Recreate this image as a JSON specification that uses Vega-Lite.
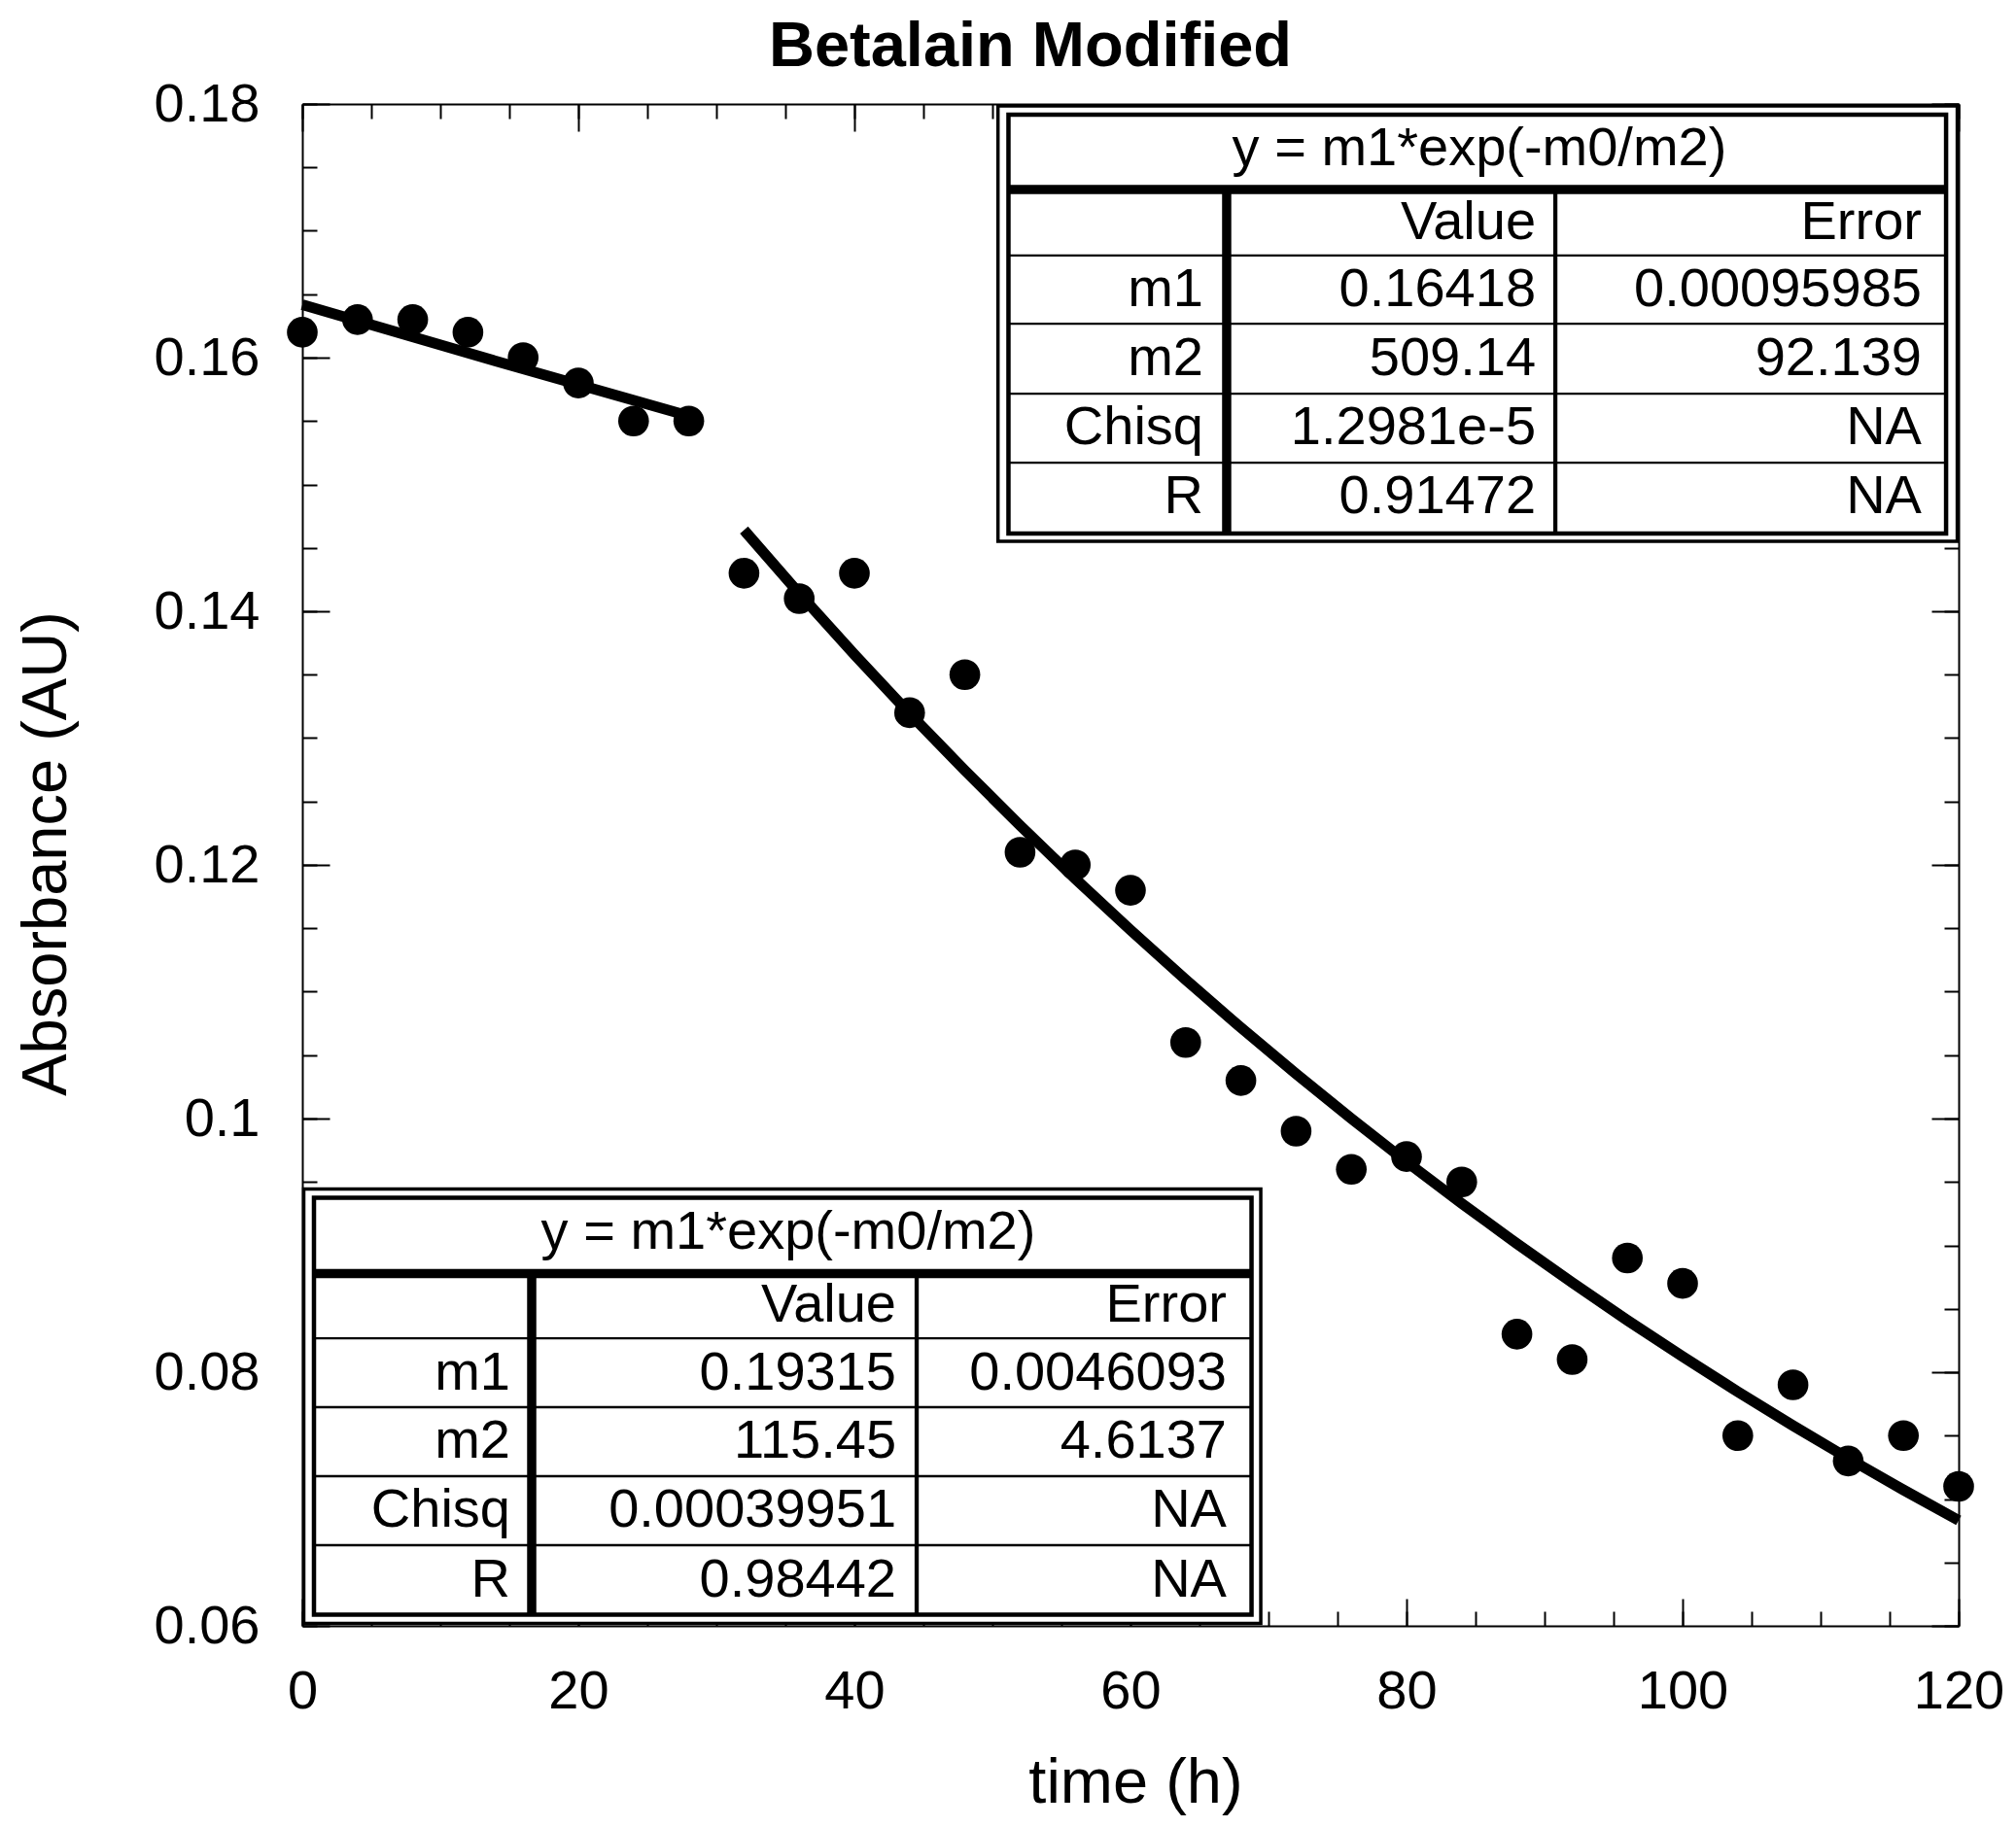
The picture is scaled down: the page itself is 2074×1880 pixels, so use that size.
{
  "$schema": "https://vega.github.io/schema/vega-lite/v6.json",
  "width": 1704,
  "height": 1566,
  "autosize": {"type": "none"},
  "padding": {"left": 311, "top": 107, "right": 59, "bottom": 207},
  "background": "white",
  "config": {
    "view": {"stroke": null},
    "axis": {
      "grid": false,
      "domainColor": "black",
      "domainWidth": 2,
      "tickColor": "black",
      "tickWidth": 2,
      "labelFont": "Liberation Sans",
      "labelFontSize": 56,
      "labelColor": "black",
      "titleFont": "Liberation Sans",
      "titleFontSize": 65,
      "titleColor": "black",
      "titleFontWeight": "normal"
    },
    "text": {"font": "Liberation Sans", "fontSize": 56, "color": "black"}
  },
  "title": {
    "text": "Betalain Modified",
    "font": "Liberation Sans",
    "fontSize": 65,
    "fontWeight": "bold",
    "color": "black",
    "anchor": "middle",
    "frame": "group",
    "dx": -103,
    "baseline": "alphabetic",
    "offset": -54
  },
  "datasets": {
    "obs": [
      {"t": 0, "a": 0.162}, {"t": 4, "a": 0.163}, {"t": 8, "a": 0.163}, {"t": 12, "a": 0.162},
      {"t": 16, "a": 0.160}, {"t": 20, "a": 0.158}, {"t": 24, "a": 0.155}, {"t": 28, "a": 0.155},
      {"t": 32, "a": 0.143}, {"t": 36, "a": 0.141}, {"t": 40, "a": 0.143}, {"t": 44, "a": 0.132},
      {"t": 48, "a": 0.135}, {"t": 52, "a": 0.121}, {"t": 56, "a": 0.120}, {"t": 60, "a": 0.118},
      {"t": 64, "a": 0.106}, {"t": 68, "a": 0.103}, {"t": 72, "a": 0.099}, {"t": 76, "a": 0.096},
      {"t": 80, "a": 0.097}, {"t": 84, "a": 0.095}, {"t": 88, "a": 0.083}, {"t": 92, "a": 0.081},
      {"t": 96, "a": 0.089}, {"t": 100, "a": 0.087}, {"t": 104, "a": 0.075}, {"t": 108, "a": 0.079},
      {"t": 112, "a": 0.073}, {"t": 116, "a": 0.075}, {"t": 120, "a": 0.071}
    ],
    "fit1": [
      {"t": 0, "a": 0.16418}, {"t": 14, "a": 0.15973}, {"t": 28, "a": 0.15540}
    ],
    "fit2": [
      {"t": 32, "a": 0.14640}, {"t": 36, "a": 0.14141}, {"t": 40, "a": 0.13659}, {"t": 44, "a": 0.13194},
      {"t": 48, "a": 0.12745}, {"t": 52, "a": 0.12311}, {"t": 56, "a": 0.11891}, {"t": 60, "a": 0.11487},
      {"t": 64, "a": 0.11095}, {"t": 68, "a": 0.10717}, {"t": 72, "a": 0.10353}, {"t": 76, "a": 0.10000},
      {"t": 80, "a": 0.09659}, {"t": 84, "a": 0.09331}, {"t": 88, "a": 0.09013}, {"t": 92, "a": 0.08706},
      {"t": 96, "a": 0.08409}, {"t": 100, "a": 0.08123}, {"t": 104, "a": 0.07846}, {"t": 108, "a": 0.07579},
      {"t": 112, "a": 0.07321}, {"t": 116, "a": 0.07072}, {"t": 120, "a": 0.06831}
    ],
    "outerBox": [
      {"x1": 50.40, "x2": 119.90, "y1": 0.14552, "y2": 0.17985},
      {"x1": 0.106, "x2": 69.44, "y1": 0.060192, "y2": 0.094445}
    ],
    "innerBox": [
      {"x1": 51.16, "x2": 119.09, "y1": 0.14613, "y2": 0.17916},
      {"x1": 0.845, "x2": 68.77, "y1": 0.060882, "y2": 0.093755}
    ],
    "thickH": [
      {"x1": 51.16, "x2": 119.09, "y": 0.17326},
      {"x1": 0.845, "x2": 68.77, "y": 0.087778}
    ],
    "thickV": [
      {"x": 66.97, "y1": 0.14613, "y2": 0.17326},
      {"x": 16.62, "y1": 0.060882, "y2": 0.087778}
    ],
    "thinH": [
      {"x1": 51.16, "x2": 119.09, "y": 0.16805},
      {"x1": 51.16, "x2": 119.09, "y": 0.16268},
      {"x1": 51.16, "x2": 119.09, "y": 0.15716},
      {"x1": 51.16, "x2": 119.09, "y": 0.15172},
      {"x1": 0.845, "x2": 68.77, "y": 0.08268},
      {"x1": 0.845, "x2": 68.77, "y": 0.07724},
      {"x1": 0.845, "x2": 68.77, "y": 0.07180},
      {"x1": 0.845, "x2": 68.77, "y": 0.06636}
    ],
    "thinV": [
      {"x": 90.78, "y1": 0.14613, "y2": 0.17326},
      {"x": 44.51, "y1": 0.060882, "y2": 0.087778}
    ],
    "headers": [
      {"label": "y = m1*exp(-m0/m2)", "cx": 85.28, "by": 0.17517},
      {"label": "y = m1*exp(-m0/m2)", "cx": 35.21, "by": 0.08973}
    ],
    "cells": [
      {"label": "Value", "rx": 89.37, "by": 0.16935},
      {"label": "Error", "rx": 117.32, "by": 0.16935},
      {"label": "m1", "rx": 65.28, "by": 0.16406},
      {"label": "0.16418", "rx": 89.37, "by": 0.16406},
      {"label": "0.00095985", "rx": 117.32, "by": 0.16406},
      {"label": "m2", "rx": 65.28, "by": 0.15862},
      {"label": "509.14", "rx": 89.37, "by": 0.15862},
      {"label": "92.139", "rx": 117.32, "by": 0.15862},
      {"label": "Chisq", "rx": 65.28, "by": 0.15318},
      {"label": "1.2981e-5", "rx": 89.37, "by": 0.15318},
      {"label": "NA", "rx": 117.32, "by": 0.15318},
      {"label": "R", "rx": 65.28, "by": 0.14774},
      {"label": "0.91472", "rx": 89.37, "by": 0.14774},
      {"label": "NA", "rx": 117.32, "by": 0.14774},
      {"label": "Value", "rx": 43.03, "by": 0.08398},
      {"label": "Error", "rx": 66.97, "by": 0.08398},
      {"label": "m1", "rx": 15.07, "by": 0.07862},
      {"label": "0.19315", "rx": 43.03, "by": 0.07862},
      {"label": "0.0046093", "rx": 66.97, "by": 0.07862},
      {"label": "m2", "rx": 15.07, "by": 0.07326},
      {"label": "115.45", "rx": 43.03, "by": 0.07326},
      {"label": "4.6137", "rx": 66.97, "by": 0.07326},
      {"label": "Chisq", "rx": 15.07, "by": 0.06782},
      {"label": "0.00039951", "rx": 43.03, "by": 0.06782},
      {"label": "NA", "rx": 66.97, "by": 0.06782},
      {"label": "R", "rx": 15.07, "by": 0.06230},
      {"label": "0.98442", "rx": 43.03, "by": 0.06230},
      {"label": "NA", "rx": 66.97, "by": 0.06230}
    ]
  },
  "resolve": {"axis": {"x": "independent", "y": "independent"}},
  "layer": [
    {
      "data": {"name": "fit1"},
      "mark": {"type": "line", "color": "black", "strokeWidth": 11, "strokeCap": "butt"},
      "encoding": {
        "x": {"field": "t", "type": "quantitative", "scale": {"domain": [0, 120], "nice": false, "zero": false},
              "axis": {"orient": "bottom", "values": [0, 20, 40, 60, 80, 100, 120], "tickSize": -28, "labels": false, "domain": false, "title": null}},
        "y": {"field": "a", "type": "quantitative", "scale": {"domain": [0.06, 0.18], "nice": false, "zero": false},
              "axis": {"orient": "left", "values": [0.06, 0.08, 0.1, 0.12, 0.14, 0.16, 0.18], "tickSize": -28, "labels": false, "domain": false, "title": null}}
      }
    },
    {
      "data": {"name": "fit2"},
      "mark": {"type": "line", "color": "black", "strokeWidth": 11, "strokeCap": "butt"},
      "encoding": {
        "x": {"field": "t", "type": "quantitative", "scale": {"domain": [0, 120], "nice": false, "zero": false},
              "axis": {"orient": "bottom", "values": [0,5,10,15,20,25,30,35,40,45,50,55,60,65,70,75,80,85,90,95,100,105,110,115,120], "tickSize": -15, "labels": false, "domain": false, "title": null}},
        "y": {"field": "a", "type": "quantitative", "scale": {"domain": [0.06, 0.18], "nice": false, "zero": false},
              "axis": {"orient": "left", "values": [0.06,0.065,0.07,0.075,0.08,0.085,0.09,0.095,0.1,0.105,0.11,0.115,0.12,0.125,0.13,0.135,0.14,0.145,0.15,0.155,0.16,0.165,0.17,0.175,0.18], "tickSize": -15, "labels": false, "domain": false, "title": null}}
      }
    },
    {
      "data": {"name": "obs"},
      "mark": {"type": "point", "shape": "circle", "filled": true, "color": "black", "opacity": 1, "size": 1000},
      "encoding": {
        "x": {"field": "t", "type": "quantitative", "scale": {"domain": [0, 120], "nice": false, "zero": false},
              "axis": {"orient": "bottom", "values": [0, 20, 40, 60, 80, 100, 120], "ticks": false, "tickSize": 0, "labelPadding": 84, "labelBaseline": "alphabetic", "labelFlush": false, "labelOverlap": false, "domain": true,
                       "title": "time (h)", "titleX": 857, "titleY": 181, "titleBaseline": "alphabetic", "titleAlign": "center", "titleAngle": 0}},
        "y": {"field": "a", "type": "quantitative", "scale": {"domain": [0.06, 0.18], "nice": false, "zero": false},
              "axis": {"orient": "left", "values": [0.06, 0.08, 0.1, 0.12, 0.14, 0.16, 0.18], "format": "~g", "ticks": false, "tickSize": 0, "labelPadding": 44, "labelFlush": false, "labelOverlap": false, "domain": true,
                       "title": "Absorbance (AU)", "titleX": -244, "titleY": 771, "titleAngle": 270, "titleBaseline": "alphabetic", "titleAlign": "center"}}
      }
    },
    {
      "data": {"name": "outerBox"},
      "mark": {"type": "rect", "fill": "white", "stroke": "black", "strokeWidth": 3.5},
      "encoding": {
        "x": {"field": "x1", "type": "quantitative", "scale": {"domain": [0, 120], "nice": false, "zero": false},
              "axis": {"orient": "top", "values": [0, 20, 40, 60, 80, 100, 120], "tickSize": -28, "labels": false, "domain": true, "title": null}},
        "x2": {"field": "x2"},
        "y": {"field": "y1", "type": "quantitative", "scale": {"domain": [0.06, 0.18], "nice": false, "zero": false},
              "axis": {"orient": "right", "values": [0.06, 0.08, 0.1, 0.12, 0.14, 0.16, 0.18], "tickSize": -28, "labels": false, "domain": true, "title": null}},
        "y2": {"field": "y2"}
      }
    },
    {
      "data": {"name": "innerBox"},
      "mark": {"type": "rect", "filled": false, "stroke": "black", "strokeWidth": 4.5},
      "encoding": {
        "x": {"field": "x1", "type": "quantitative", "scale": {"domain": [0, 120], "nice": false, "zero": false},
              "axis": {"orient": "top", "values": [0,5,10,15,20,25,30,35,40,45,50,55,60,65,70,75,80,85,90,95,100,105,110,115,120], "tickSize": -15, "labels": false, "domain": false, "title": null}},
        "x2": {"field": "x2"},
        "y": {"field": "y1", "type": "quantitative", "scale": {"domain": [0.06, 0.18], "nice": false, "zero": false},
              "axis": {"orient": "right", "values": [0.06,0.065,0.07,0.075,0.08,0.085,0.09,0.095,0.1,0.105,0.11,0.115,0.12,0.125,0.13,0.135,0.14,0.145,0.15,0.155,0.16,0.165,0.17,0.175,0.18], "tickSize": -15, "labels": false, "domain": false, "title": null}},
        "y2": {"field": "y2"}
      }
    },
    {
      "data": {"name": "thinH"},
      "mark": {"type": "rule", "color": "black", "strokeWidth": 2.3, "strokeCap": "butt"},
      "encoding": {
        "x": {"field": "x1", "type": "quantitative", "axis": null},
        "x2": {"field": "x2"},
        "y": {"field": "y", "type": "quantitative", "axis": null}
      }
    },
    {
      "data": {"name": "thinV"},
      "mark": {"type": "rule", "color": "black", "strokeWidth": 4.3, "strokeCap": "butt"},
      "encoding": {
        "x": {"field": "x", "type": "quantitative", "axis": null},
        "y": {"field": "y1", "type": "quantitative", "axis": null},
        "y2": {"field": "y2"}
      }
    },
    {
      "data": {"name": "thickH"},
      "mark": {"type": "rule", "color": "black", "strokeWidth": 9.5, "strokeCap": "butt"},
      "encoding": {
        "x": {"field": "x1", "type": "quantitative", "axis": null},
        "x2": {"field": "x2"},
        "y": {"field": "y", "type": "quantitative", "axis": null}
      }
    },
    {
      "data": {"name": "thickV"},
      "mark": {"type": "rule", "color": "black", "strokeWidth": 9.5, "strokeCap": "butt"},
      "encoding": {
        "x": {"field": "x", "type": "quantitative", "axis": null},
        "y": {"field": "y1", "type": "quantitative", "axis": null},
        "y2": {"field": "y2"}
      }
    },
    {
      "data": {"name": "headers"},
      "mark": {"type": "text", "align": "center", "baseline": "alphabetic", "font": "Liberation Sans", "fontSize": 56, "color": "black"},
      "encoding": {
        "x": {"field": "cx", "type": "quantitative", "axis": null},
        "y": {"field": "by", "type": "quantitative", "axis": null},
        "text": {"field": "label"}
      }
    },
    {
      "data": {"name": "cells"},
      "mark": {"type": "text", "align": "right", "baseline": "alphabetic", "font": "Liberation Sans", "fontSize": 56, "color": "black"},
      "encoding": {
        "x": {"field": "rx", "type": "quantitative", "axis": null},
        "y": {"field": "by", "type": "quantitative", "axis": null},
        "text": {"field": "label"}
      }
    }
  ]
}
